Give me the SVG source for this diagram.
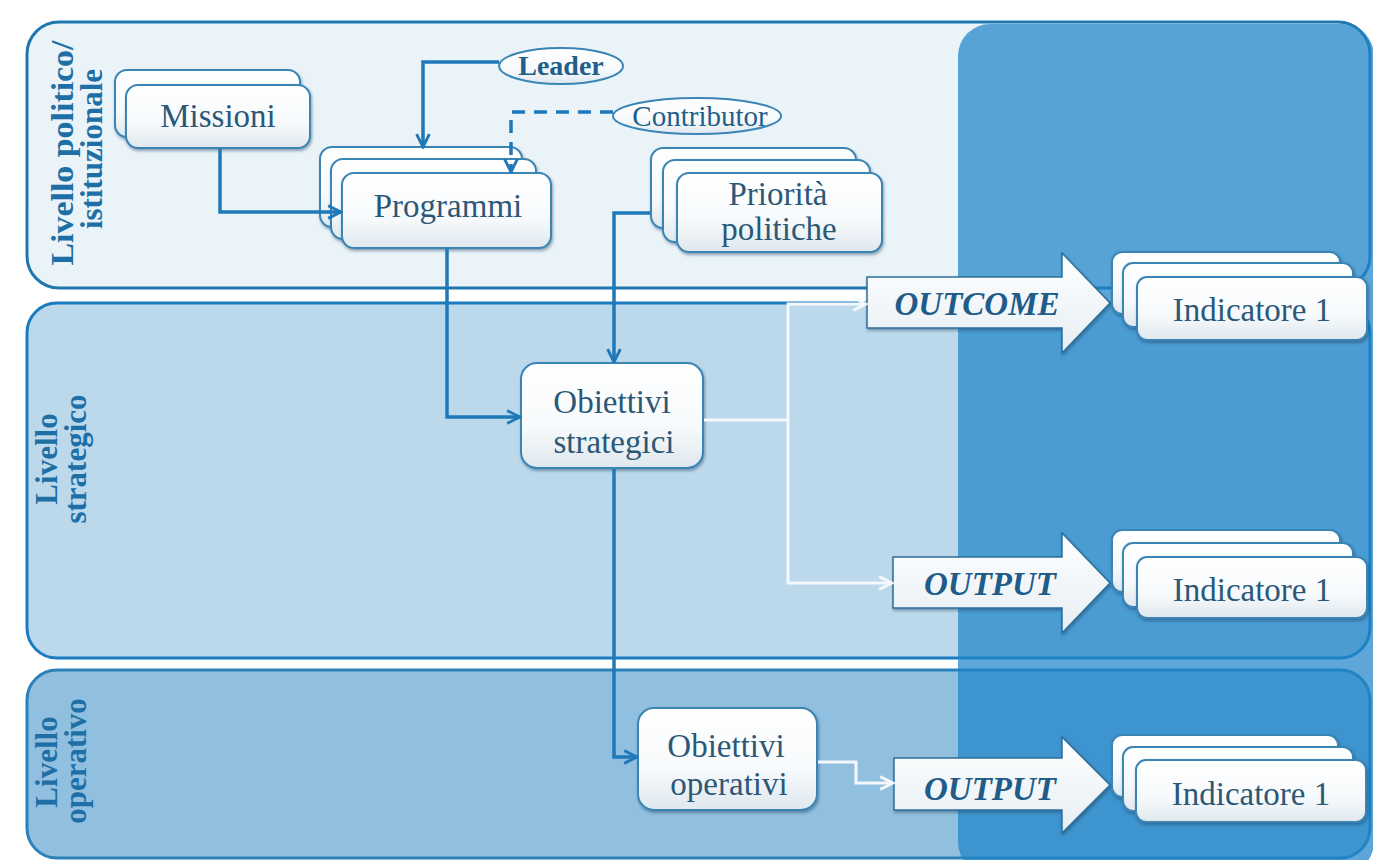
<svg xmlns="http://www.w3.org/2000/svg" width="1373" height="860" viewBox="0 0 1373 860">
<defs>
<linearGradient id="boxg" x1="0" y1="0" x2="0" y2="1">
<stop offset="0" stop-color="#ffffff"/><stop offset="0.6" stop-color="#f7fafc"/><stop offset="1" stop-color="#dfe8ee"/>
</linearGradient>
<linearGradient id="arrg" x1="0" y1="0" x2="0" y2="1">
<stop offset="0" stop-color="#ffffff"/><stop offset="1" stop-color="#e6eef3"/>
</linearGradient>
<filter id="sh" x="-10%" y="-10%" width="125%" height="130%">
<feDropShadow dx="1" dy="2" stdDeviation="1.5" flood-color="#123c5a" flood-opacity="0.45"/>
</filter>
<marker id="ab" viewBox="0 0 10 10" refX="9" refY="5" markerWidth="16" markerHeight="16" markerUnits="userSpaceOnUse" orient="auto">
<path d="M1,1 L9,5 L1,9" fill="none" stroke="#1f78b8" stroke-width="1.8"/>
</marker>
<marker id="aw" viewBox="0 0 10 10" refX="9" refY="5" markerWidth="16" markerHeight="16" markerUnits="userSpaceOnUse" orient="auto">
<path d="M1,1 L9,5 L1,9" fill="none" stroke="#f4f8fb" stroke-width="1.8"/>
</marker>
<style>
.band{stroke-width:3}
.lbl{font-family:"Liberation Serif","Times New Roman","DejaVu Serif",serif;font-weight:bold;font-size:31px;fill:#1d6fa5;text-anchor:middle}
.box{fill:url(#boxg);stroke:#3a85b5;stroke-width:2;filter:url(#sh)}
.nt{font-family:"Liberation Serif","Times New Roman","DejaVu Serif",serif;font-size:33px;fill:#2c5878;text-anchor:middle}
.ell{fill:url(#boxg);stroke:#3a85b5;stroke-width:2}
.big{fill:url(#arrg);stroke:#2b6f9a;stroke-width:1.5;filter:url(#sh)}
.bt{font-family:"Liberation Serif","Times New Roman","DejaVu Serif",serif;font-size:33px;font-weight:bold;font-style:italic;fill:#1f5c8a;text-anchor:middle}
.cb{fill:none;stroke:#1f78b8;stroke-width:3.5;marker-end:url(#ab)}
.cw{fill:none;stroke:#f4f8fb;stroke-width:3;marker-end:url(#aw)}
</style>
</defs>
<rect width="1373" height="860" fill="#ffffff"/>
<g id="bands">
<rect class="band" x="27" y="22" width="1343" height="266" rx="32" fill="#e9f3f8" stroke="#1f78ad"/>
<rect class="band" x="27" y="303" width="1343" height="355" rx="30" fill="#bcd9ec" stroke="#1a7cc0"/>
<rect class="band" x="27" y="670" width="1343" height="188" rx="30" fill="#91bfdf" stroke="#2a82b8"/>
<rect x="958" y="24" width="416" height="850" rx="32" fill="#1f84c8" fill-opacity="0.72"/>
</g>
<g id="labels">
<text class="lbl" transform="translate(73,153) rotate(-90)" textLength="225" lengthAdjust="spacingAndGlyphs">Livello politico/</text>
<text class="lbl" transform="translate(102,149) rotate(-90)">istituzionale</text>
<text class="lbl" transform="translate(57,459) rotate(-90)">Livello</text>
<text class="lbl" transform="translate(86,459) rotate(-90)">strategico</text>
<text class="lbl" transform="translate(57,762) rotate(-90)">Livello</text>
<text class="lbl" transform="translate(86,761) rotate(-90)">operativo</text>
</g>
<g id="missioni">
<rect class="box" x="115" y="70" width="185" height="67" rx="12"/>
<rect class="box" x="126" y="85" width="184" height="63" rx="12"/>
<text class="nt" x="218" y="127">Missioni</text>
</g>
<g id="leader">
<ellipse class="ell" cx="561" cy="66" rx="62" ry="18"/>
<text x="561" y="75" font-family="Liberation Serif, Times New Roman, serif" font-size="28" font-weight="bold" fill="#215f8a" text-anchor="middle">Leader</text>
</g>
<g id="contributor">
<ellipse class="ell" cx="697" cy="116" rx="84" ry="18"/>
<text x="700" y="126" font-family="Liberation Serif, Times New Roman, serif" font-size="29" fill="#215f8a" text-anchor="middle">Contributor</text>
</g>
<g id="programmi">
<rect class="box" x="320" y="147" width="202" height="80" rx="12"/>
<rect class="box" x="331" y="159" width="205" height="80" rx="12"/>
<rect class="box" x="342" y="173" width="209" height="75" rx="12"/>
<text class="nt" x="448" y="217">Programmi</text>
</g>
<g id="priorita">
<rect class="box" x="651" y="148" width="205" height="80" rx="12"/>
<rect class="box" x="663" y="160" width="207" height="82" rx="12"/>
<rect class="box" x="677" y="173" width="205" height="79" rx="12"/>
<text class="nt" x="778" y="205" font-size="31">Priorità</text>
<text class="nt" x="779" y="240" font-size="31">politiche</text>
</g>
<g id="obiettivi-strategici">
<rect class="box" x="521" y="363" width="182" height="105" rx="16"/>
<text class="nt" x="612" y="413">Obiettivi</text>
<text class="nt" x="614" y="453">strategici</text>
</g>
<g id="obiettivi-operativi">
<rect class="box" x="638" y="708" width="179" height="102" rx="16"/>
<text class="nt" x="726" y="757">Obiettivi</text>
<text class="nt" x="729" y="795">operativi</text>
</g>
<g id="outcome">
<path class="big" d="M867,277 H1062 V253 L1110,303 L1062,353 V328 H867 Z"/>
<text class="bt" x="977" y="315">OUTCOME</text>
</g>
<g id="output-strategico">
<path class="big" d="M893,557 H1062 V533 L1110,583 L1062,633 V608 H893 Z"/>
<text class="bt" x="990" y="595">OUTPUT</text>
</g>
<g id="output-operativo">
<path class="big" d="M894,758 H1062 V737 L1110,785 L1062,833 V810 H894 Z"/>
<text class="bt" x="990" y="800">OUTPUT</text>
</g>
<g id="indicatore-outcome">
<rect class="box" x="1112" y="252" width="228" height="62" rx="10"/>
<rect class="box" x="1123" y="263" width="230" height="64" rx="10"/>
<rect class="box" x="1137" y="277" width="230" height="63" rx="10"/>
<text class="nt" x="1252" y="321">Indicatore 1</text>
</g>
<g id="indicatore-output-strategico">
<rect class="box" x="1112" y="530" width="228" height="62" rx="10"/>
<rect class="box" x="1123" y="543" width="230" height="64" rx="10"/>
<rect class="box" x="1137" y="557" width="230" height="61" rx="10"/>
<text class="nt" x="1252" y="601">Indicatore 1</text>
</g>
<g id="indicatore-output-operativo">
<rect class="box" x="1112" y="735" width="226" height="62" rx="10"/>
<rect class="box" x="1123" y="747" width="230" height="64" rx="10"/>
<rect class="box" x="1136" y="760" width="230" height="62" rx="10"/>
<text class="nt" x="1251" y="805">Indicatore 1</text>
</g>
<g id="connectors">
<path class="cb" d="M499,62 H423 V147"/>
<path class="cb" d="M613,112 H511 V172" stroke-dasharray="13,9"/>
<path class="cb" d="M220,149 V212 H341"/>
<path class="cb" d="M447,249 V417 H520"/>
<path class="cb" d="M650,213 H614 V362"/>
<path class="cb" d="M614,469 V757 H637"/>
<path class="cw" d="M704,420 H788 V304 H866"/>
<path class="cw" d="M788,420 V583 H892"/>
<path class="cw" d="M818,762 H856 V783 H893"/>
</g>
</svg>
